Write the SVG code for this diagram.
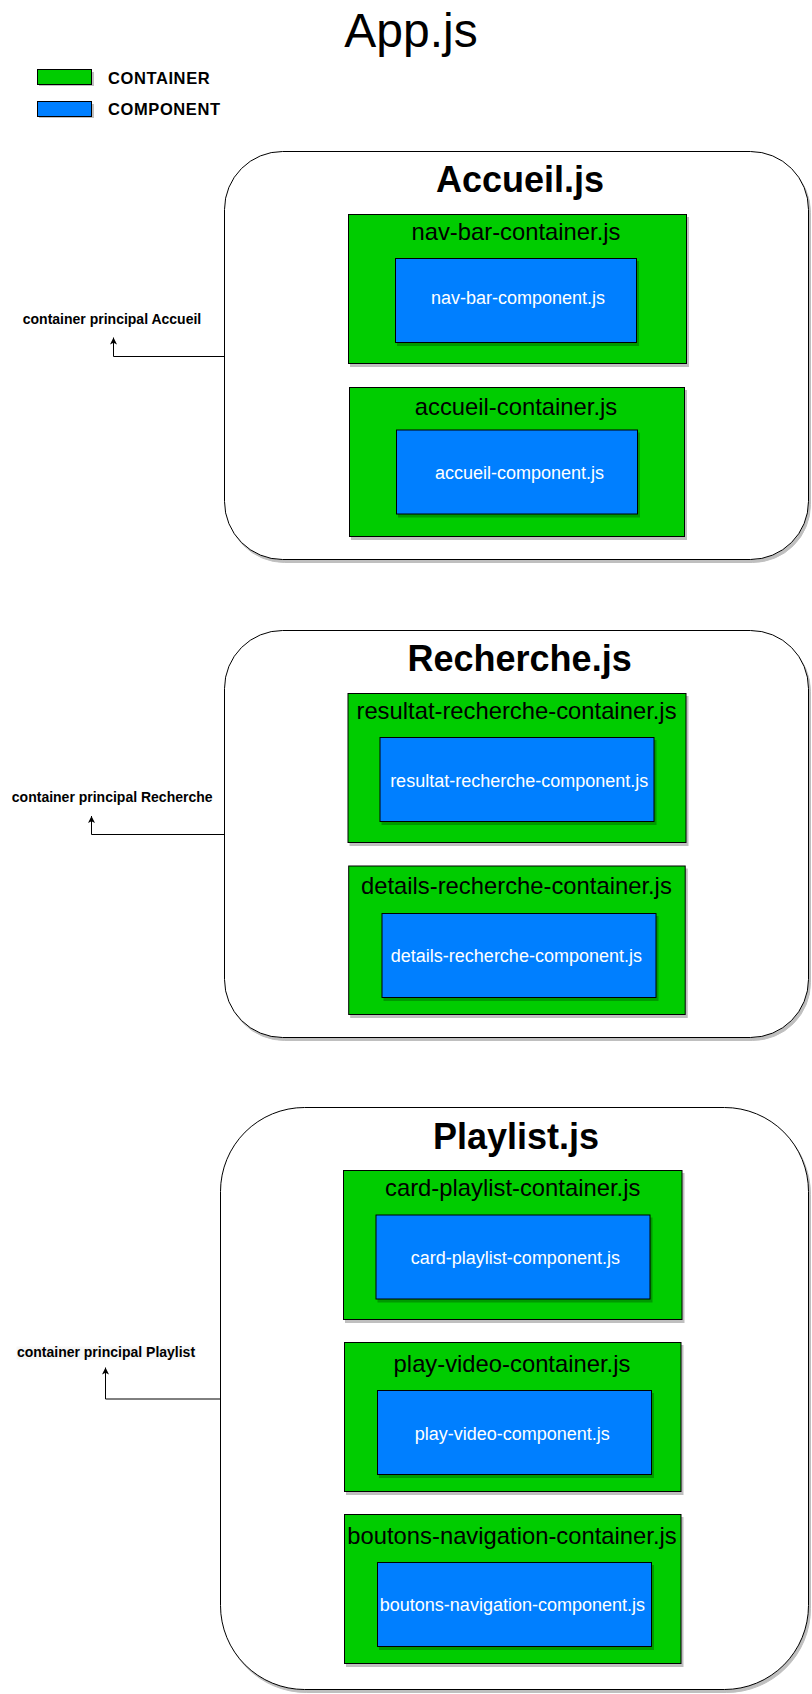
<svg xmlns="http://www.w3.org/2000/svg" width="812" height="1694" viewBox="0 0 812 1694">
<defs>
<filter id="sh" x="-5%" y="-5%" width="115%" height="115%">
<feOffset in="SourceAlpha" dx="2" dy="3" result="o"/>
<feFlood flood-color="#000" flood-opacity="0.25"/>
<feComposite in2="o" operator="in"/>
<feMerge><feMergeNode/><feMergeNode in="SourceGraphic"/></feMerge>
</filter>
<marker id="arr" viewBox="0 0 7 7" refX="7" refY="3.5" markerWidth="7" markerHeight="7" markerUnits="userSpaceOnUse" orient="auto">
<path d="M7,3.5 L0,0 L1.8,3.5 L0,7 Z" fill="#000"/>
</marker>
<style>
text{font-family:"Liberation Sans",Arial,Helvetica,sans-serif;text-anchor:middle}
.page{fill:#fff;stroke:#000;stroke-width:1;filter:url(#sh)}
.cont{fill:#00CC00;stroke:#000;stroke-width:1;filter:url(#sh)}
.comp{fill:#007FFF;stroke:#000;stroke-width:1;filter:url(#sh)}
.ttl{font-size:36px;font-weight:bold;fill:#000}
.ct{font-size:23.8px;fill:#000}
.cp{font-size:18px;fill:#fff}
.lbl{font-size:14px;font-weight:bold;fill:#000}
.leg{font-size:16.5px;font-weight:bold;fill:#000;text-anchor:start;letter-spacing:0.6px}
.conn{fill:none;stroke:#000;stroke-width:1;marker-end:url(#arr)}
</style>
</defs>
<rect width="812" height="1694" fill="#fff"/>

<g id="title">
<text x="411" y="46.5" style="font-size:48px">App.js</text>
</g>

<g id="legend">
<rect class="cont" x="37.5" y="69.5" width="54" height="15"/>
<text class="leg" x="108" y="84">CONTAINER</text>
<rect class="comp" x="37.5" y="101.5" width="54" height="15"/>
<text class="leg" x="108" y="114.5">COMPONENT</text>
</g>

<g id="connectors">
<path class="conn" d="M224.5 356.5 H113.5 V337.5"/>
<path class="conn" d="M224.5 834.5 H91.5 V816"/>
<path class="conn" d="M220.5 1399 H105.5 V1367.5"/>
</g>

<g id="label-accueil">
<text class="lbl" x="112" y="324">container principal Accueil</text>
</g>
<g id="label-recherche">
<text class="lbl" x="112.2" y="802">container principal Recherche</text>
</g>
<g id="label-playlist">
<rect x="16.5" y="1346.5" width="179" height="13" fill="#f7f7f7"/>
<text class="lbl" x="106" y="1356.5">container principal Playlist</text>
</g>

<g id="accueil">
<rect class="page" x="224.5" y="151.5" width="584" height="408" rx="58" ry="58"/>
<text class="ttl" x="520" y="192">Accueil.js</text>
<g id="nav-bar-container">
<rect class="cont" x="348.5" y="214.5" width="338" height="149"/>
<text class="ct" x="516" y="240">nav-bar-container.js</text>
</g>
<g id="nav-bar-component">
<rect class="comp" x="395.5" y="258.5" width="241" height="84"/>
<text class="cp" x="518" y="304">nav-bar-component.js</text>
</g>
<g id="accueil-container">
<rect class="cont" x="349.5" y="387.5" width="335" height="149"/>
<text class="ct" x="516" y="414.5">accueil-container.js</text>
</g>
<g id="accueil-component">
<rect class="comp" x="396.5" y="430" width="241" height="84"/>
<text class="cp" x="519.5" y="479">accueil-component.js</text>
</g>
</g>

<g id="recherche">
<rect class="page" x="224.5" y="630.5" width="584" height="407" rx="58" ry="58"/>
<text class="ttl" x="519.6" y="671">Recherche.js</text>
<g id="resultat-recherche-container">
<rect class="cont" x="348" y="693.5" width="338" height="149"/>
<text class="ct" x="516.5" y="718.5">resultat-recherche-container.js</text>
</g>
<g id="resultat-recherche-component">
<rect class="comp" x="380" y="737.5" width="274" height="84"/>
<text class="cp" x="519.2" y="787">resultat-recherche-component.js</text>
</g>
<g id="details-recherche-container">
<rect class="cont" x="348.7" y="866" width="336.5" height="148.5"/>
<text class="ct" x="516.4" y="894">details-recherche-container.js</text>
</g>
<g id="details-recherche-component">
<rect class="comp" x="382" y="913.5" width="274" height="84"/>
<text class="cp" x="516.4" y="962">details-recherche-component.js</text>
</g>
</g>

<g id="playlist">
<rect class="page" x="220.5" y="1107.5" width="588" height="582" rx="84" ry="84"/>
<text class="ttl" x="516" y="1148.5">Playlist.js</text>
<g id="card-playlist-container">
<rect class="cont" x="343.5" y="1170.5" width="338.5" height="149"/>
<text class="ct" x="512.7" y="1196">card-playlist-container.js</text>
</g>
<g id="card-playlist-component">
<rect class="comp" x="376" y="1215" width="274" height="84"/>
<text class="cp" x="515.4" y="1263.5">card-playlist-component.js</text>
</g>
<g id="play-video-container">
<rect class="cont" x="344.5" y="1342.5" width="336.5" height="149"/>
<text class="ct" x="512" y="1371.5">play-video-container.js</text>
</g>
<g id="play-video-component">
<rect class="comp" x="377.5" y="1390.5" width="274" height="84"/>
<text class="cp" x="512.3" y="1440">play-video-component.js</text>
</g>
<g id="boutons-navigation-container">
<rect class="cont" x="344.5" y="1514.5" width="336.5" height="149"/>
<text class="ct" x="512" y="1543.5">boutons-navigation-container.js</text>
</g>
<g id="boutons-navigation-component">
<rect class="comp" x="377.5" y="1562.5" width="274" height="84"/>
<text class="cp" x="512.4" y="1610.5">boutons-navigation-component.js</text>
</g>
</g>
</svg>
